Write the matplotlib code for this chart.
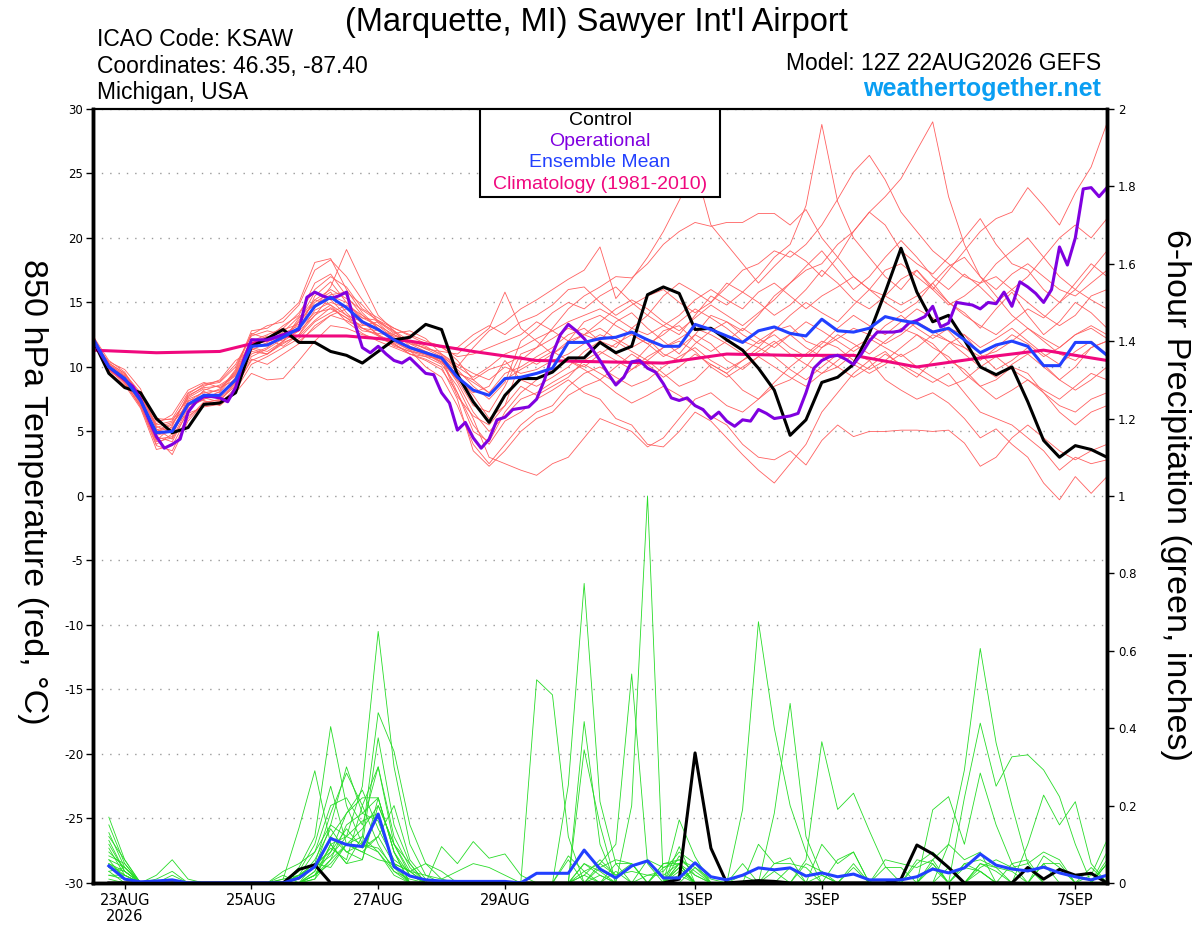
#!/usr/bin/env python
# coding=utf-8
"""
GEFS meteogram: 850 hPa temperature and 6-hour precipitation (KSAW)
"""

import numpy as np
import pandas as pd
import matplotlib
matplotlib.use("Agg")
import matplotlib.pyplot as plt
from matplotlib.patches import Rectangle

# --- datos -------------------------------------------------------------
run_start = "2026-08-22 12:00"

tick_dates = ["2026-08-23", "2026-08-25", "2026-08-27", "2026-08-29",
              "2026-09-01", "2026-09-03", "2026-09-05", "2026-09-07"]
tick_labels = ["23AUG\n2026", "25AUG", "27AUG", "29AUG",
               "1SEP", "3SEP", "5SEP", "7SEP"]

# control (6 h), 22AUG 12Z .. 7SEP 12Z
control_temp = [12.1, 9.5, 8.4, 8.0, 6.0, 4.9, 5.3, 7.1, 7.2, 8.0,
                11.6, 12.2, 12.9, 11.9, 11.9, 11.2, 10.9, 10.3, 11.2, 12.1,
                12.3, 13.3, 12.9, 9.4, 7.3, 5.7, 7.8, 9.1, 9.1, 9.6,
                10.7, 10.7, 11.9, 11.1, 11.6, 15.6, 16.2, 15.7, 12.9, 13.0,
                12.1, 11.3, 9.9, 8.2, 4.7, 5.9, 8.8, 9.2, 10.2, 12.6,
                15.8, 19.2, 15.8, 13.5, 14.0, 12.1, 10.0, 9.4, 10.0, 7.3,
                4.3, 3.0, 3.9, 3.6, 3.0]

# operacional (3 h)
oper_temp = [12.1, 11.0, 10.0, 9.5, 9.0, 8.5, 7.5, 6.0, 4.6, 3.7,
             4.0, 4.4, 6.5, 7.3, 7.7, 7.7, 7.6, 7.3, 8.4, 10.5,
             12.1, 12.1, 12.1, 12.3, 12.5, 12.7, 12.9, 15.4, 15.8, 15.5,
             15.3, 15.5, 15.8, 13.5, 11.5, 11.1, 11.6, 11.0, 10.5, 10.3,
             10.7, 10.1, 9.5, 9.4, 8.0, 7.2, 5.1, 5.7, 4.5, 3.7,
             4.4, 5.9, 6.1, 6.7, 6.8, 6.9, 7.5, 9.0, 11.0, 12.5,
             13.3, 12.8, 12.2, 11.4, 10.5, 9.5, 8.6, 9.2, 10.4, 10.5,
             9.9, 9.6, 8.7, 7.6, 7.4, 7.6, 7.0, 6.7, 6.0, 6.5,
             5.8, 5.4, 5.9, 5.8, 6.7, 6.4, 6.0, 6.1, 6.2, 6.4,
             8.0, 9.9, 10.5, 10.8, 10.9, 10.6, 10.2, 11.0, 12.0, 12.7,
             12.7, 12.7, 12.8, 13.4, 13.6, 13.9, 14.7, 13.1, 13.4, 15.0,
             14.9, 14.8, 14.5, 15.0, 14.9, 15.8, 14.7, 16.6, 16.2, 15.7,
             15.0, 16.0, 19.3, 17.9, 20.0, 23.8, 23.9, 23.2, 23.9]

mean_temp = [12.2, 10.0, 9.1, 7.4, 4.9, 5.0, 7.1, 7.8, 7.8, 9.0,
             11.6, 11.7, 12.3, 13.0, 14.7, 15.4, 14.6, 13.5, 12.9, 12.1,
             11.5, 11.1, 10.7, 9.2, 8.2, 7.8, 9.1, 9.2, 9.5, 9.9,
             11.9, 11.9, 12.2, 12.3, 12.7, 12.1, 11.6, 11.6, 13.3, 12.9,
             12.4, 11.9, 12.8, 13.1, 12.6, 12.4, 13.7, 12.8, 12.7, 13.0,
             13.9, 13.6, 13.4, 12.7, 13.0, 12.1, 11.1, 11.7, 12.0, 11.6,
             10.1, 10.1, 11.9, 11.9, 10.9]

# climatologia diaria
clim_temp = [11.3, 11.1, 11.2, 12.4, 12.4, 12.0, 11.2, 10.5, 10.4,
             10.3, 11.0, 10.9, 10.9, 10.0, 10.7, 11.3, 10.5]

# miembros del ensamble, temperatura (6 h)
member_temp = [
    [12.0, 10.2, 9.3, 7.8, 5.5, 5.8, 7.6, 8.3, 8.0, 9.5,
     12.0, 12.5, 13.0, 14.2, 16.0, 17.0, 16.2, 14.5, 13.8, 13.0, 12.5, 12.0, 11.6,
     10.5, 9.0, 8.0, 9.5,
     10.0, 10.8, 11.5, 12.5, 13.0, 12.0, 11.5, 13.0, 14.0, 13.2, 12.5, 14.0, 15.5,
     14.8, 15.8, 17.0, 18.5, 19.5, 22.5, 28.8, 22.8, 20.0, 18.5, 17.0, 16.0, 17.5,
     16.2, 15.0, 14.2, 13.0, 14.5, 15.8, 14.0, 12.5, 13.5, 15.0, 14.2, 13.0],
    [12.4, 9.8, 8.8, 7.0, 4.2, 4.5, 6.8, 7.5, 7.9, 8.8,
     11.2, 11.0, 11.8, 12.5, 14.0, 15.5, 15.0, 13.6, 12.4, 11.8, 11.0, 10.5, 9.8,
     8.0, 5.5, 4.0, 5.8,
     6.5, 7.5, 8.2, 9.0, 8.0, 7.5, 6.0, 5.5, 4.0, 3.8, 5.0, 6.5, 5.8,
     4.5, 3.2, 2.0, 1.0, 2.5, 4.0, 6.5, 8.0, 9.5, 10.5, 11.2, 10.0, 9.2,
     10.5, 11.8, 12.5, 11.0, 9.8, 10.5, 11.5, 10.2, 9.0, 10.0, 11.5, 12.0],
    [12.1, 10.3, 9.5, 8.0, 5.8, 6.0, 8.0, 8.6, 8.8, 10.0,
     12.5, 13.2, 13.5, 14.8, 17.5, 18.3, 17.0, 15.2, 13.5, 12.6, 12.8, 12.2, 11.0,
     10.0, 11.5, 12.8, 13.5,
     14.5, 15.2, 16.0, 16.8, 17.5, 19.3, 15.3, 16.8, 18.5, 20.5, 22.9, 25.5, 21.0,
     19.5, 18.0, 16.5, 17.8, 19.0, 18.2, 17.0, 18.5, 20.5, 22.0, 21.0, 19.0, 18.0,
     17.2, 18.5, 20.0, 21.5, 19.5, 18.0, 17.5, 16.0, 15.0, 16.5, 18.0, 17.0],
    [12.3, 9.6, 8.6, 6.8, 3.6, 3.9, 6.2, 7.0, 7.2, 8.2,
     10.2, 10.8, 11.5, 12.2, 13.5, 14.2, 14.8, 14.0, 13.0, 12.0, 11.3, 10.0, 9.2,
     7.0, 4.0, 2.5, 4.0,
     5.5, 6.5, 7.0, 8.5, 9.5, 10.0, 9.2, 8.5, 9.0, 10.0, 10.8, 11.5, 10.5,
     9.8, 10.5, 11.2, 12.0, 11.0, 10.2, 9.5, 10.0, 11.0, 10.5, 9.0, 8.2, 7.5,
     8.0, 7.2, 6.0, 4.5, 5.2, 4.0, 3.0, 1.0, -0.3, 1.5, 0.2, 1.5],
    [12.2, 10.1, 9.0, 7.2, 4.8, 5.2, 7.3, 8.1, 7.6, 8.7,
     11.5, 11.2, 12.0, 13.5, 15.0, 15.8, 14.2, 13.0, 12.8, 12.5, 11.8, 11.5, 11.0,
     10.2, 9.5, 9.0, 10.0,
     9.5, 9.8, 10.5, 11.0, 11.8, 12.5, 12.0, 11.2, 10.5, 11.5, 12.2, 13.0, 12.5,
     11.8, 11.0, 12.0, 12.8, 13.2, 12.0, 11.5, 12.2, 13.0, 12.5, 11.8, 12.5, 13.5,
     12.8, 12.0, 11.5, 10.8, 11.2, 12.0, 13.0, 12.2, 11.5, 12.5, 13.2, 12.5],
    [12.0, 10.4, 9.8, 8.3, 5.2, 4.4, 6.5, 7.8, 8.3, 9.6,
     12.2, 12.0, 12.6, 13.2, 14.6, 16.2, 19.1, 16.5, 14.0, 12.8, 11.6, 11.2, 10.5,
     9.0, 7.0, 6.5, 8.5,
     11.0, 11.5, 12.2, 13.0, 12.5, 12.0, 13.5, 14.2, 13.0, 12.0, 11.0, 12.5, 14.0,
     13.5, 12.8, 14.0, 15.5, 16.5, 17.5, 18.0, 19.5, 20.5, 22.0, 23.2, 24.6, 26.8,
     29.0, 23.2, 19.5, 17.0, 15.5, 14.0, 13.0, 12.0, 11.0, 10.5, 11.5, 12.0],
    [12.5, 9.9, 8.9, 7.4, 5.0, 5.5, 7.8, 8.4, 8.5, 9.3,
     11.8, 12.4, 12.0, 12.8, 15.5, 16.6, 15.0, 13.8, 13.2, 12.2, 11.9, 11.4, 11.2,
     11.0, 12.0, 13.0, 15.8,
     13.0, 12.0, 11.0, 12.0, 13.5, 14.0, 13.2, 12.5, 11.8, 12.5, 13.5, 14.5, 13.8,
     13.0, 12.0, 11.5, 12.8, 14.0, 15.0, 14.2, 13.5, 14.8, 16.0, 17.5, 18.0, 17.0,
     16.0, 17.5, 19.0, 20.5, 21.5, 22.0, 23.9, 22.5, 21.0, 23.5, 25.5, 28.9],
    [12.2, 10.0, 9.2, 7.5, 4.5, 3.2, 5.8, 7.2, 7.5, 8.5,
     10.5, 11.0, 12.0, 13.8, 15.2, 14.8, 13.5, 12.6, 12.0, 11.5, 11.0, 10.8, 10.2,
     8.5, 6.0, 3.0, 2.5,
     2.0, 1.6, 2.5, 3.0, 4.5, 6.0, 5.5, 5.0, 3.8, 4.5, 6.0, 7.5, 8.0,
     7.0, 6.5, 7.5, 8.5, 9.0, 10.0, 11.5, 12.5, 11.8, 11.0, 12.0, 13.0, 12.5,
     11.5, 10.8, 9.5, 8.5, 9.0, 10.0, 9.5, 8.0, 7.0, 6.5, 7.5, 8.0],
    [12.1, 9.7, 9.0, 7.1, 4.0, 4.8, 7.0, 7.6, 7.3, 8.9,
     11.0, 11.5, 12.4, 13.0, 14.2, 14.5, 13.8, 13.2, 13.5, 12.8, 12.0, 11.6, 10.9,
     9.8, 8.5, 7.5, 8.8,
     12.0, 13.0, 14.2, 15.0, 14.5, 15.5, 16.2, 15.0, 14.0, 15.5, 16.5, 15.8, 15.0,
     16.2, 17.5, 18.0, 19.0, 18.5, 19.5, 21.0, 23.0, 25.1, 26.4, 24.5, 22.0, 20.5,
     19.0, 18.0, 17.0, 16.5, 18.0, 19.0, 20.0, 18.5, 17.0, 16.0, 17.5, 19.0],
    [12.3, 10.2, 9.4, 7.9, 6.0, 5.9, 7.5, 8.0, 8.2, 9.8,
     12.8, 13.0, 13.8, 15.0, 18.1, 18.4, 16.0, 14.2, 13.0, 12.0, 11.5, 11.0, 10.4,
     9.2, 7.8, 6.0, 7.0,
     10.5, 11.5, 13.0, 14.5, 15.5, 16.2, 17.0, 16.9, 18.0, 19.5, 20.5, 21.2, 20.9,
     21.2, 21.2, 21.9, 21.9, 21.0, 22.2, 20.0, 18.5, 17.0, 16.0, 15.5, 14.8, 15.5,
     16.5, 15.0, 14.0, 13.2, 12.5, 13.5, 14.5, 13.8, 15.0, 16.0, 15.2, 14.5],
    [12.4, 10.5, 9.6, 7.6, 4.6, 4.2, 6.6, 7.9, 7.7, 9.1,
     11.6, 11.8, 12.2, 13.6, 15.8, 15.2, 14.0, 13.5, 12.5, 11.6, 11.2, 10.8, 10.6,
     8.8, 6.5, 5.0, 6.2,
     7.5, 8.0, 8.8, 9.5, 10.2, 9.5, 8.8, 9.8, 10.5, 9.5, 8.5, 9.0, 10.2,
     9.5, 8.2, 7.5, 8.8, 10.0, 11.0, 12.0, 11.5, 10.5, 9.8, 10.5, 11.5, 12.5,
     11.8, 10.5, 9.8, 8.5, 7.5, 8.2, 9.0, 8.0, 6.5, 5.5, 6.5, 7.0],
    [12.0, 9.8, 8.7, 7.0, 4.3, 5.4, 7.9, 8.7, 8.9, 10.2,
     12.4, 12.8, 12.5, 12.0, 13.0, 14.0, 14.5, 13.8, 13.6, 13.0, 12.4, 11.8, 11.5,
     11.5, 12.5, 13.2, 12.5,
     13.5, 14.0, 14.8, 16.0, 16.2, 15.0, 14.0, 14.8, 15.5, 16.0, 15.0, 14.2, 15.0,
     16.5, 15.8, 15.0, 14.0, 14.8, 16.0, 17.5, 16.5, 15.2, 14.5, 15.5, 16.8, 17.5,
     16.0, 14.8, 15.5, 16.5, 17.0, 16.0, 15.0, 14.0, 13.2, 14.0, 15.5, 16.0],
    [12.2, 10.1, 9.1, 7.3, 5.1, 5.6, 7.2, 7.4, 7.0, 8.0,
     9.5, 9.0, 9.1, 10.5, 12.0, 13.2, 13.0, 12.5, 12.2, 11.8, 11.0, 10.6, 10.0,
     7.5, 3.5, 2.3, 3.5,
     5.0, 6.0, 6.5, 7.8, 8.5, 9.0, 8.0, 7.2, 7.8, 8.5, 7.8, 7.0, 6.2,
     5.5, 4.0, 3.0, 2.8, 3.5, 2.4, 4.3, 5.5, 4.6, 5.0, 5.0, 5.1, 5.1,
     5.0, 5.1, 4.1, 2.3, 3.0, 4.5, 5.5, 4.5, 3.5, 2.8, 3.5, 4.0],
    [12.3, 10.0, 9.3, 7.7, 5.4, 4.9, 6.9, 8.2, 8.6, 9.4,
     11.9, 12.2, 13.2, 14.0, 16.5, 17.2, 15.5, 14.0, 13.2, 12.5, 12.0, 11.4, 10.8,
     10.0, 9.2, 10.0, 11.0,
     11.5, 12.2, 12.8, 13.5, 14.0, 14.5, 13.8, 13.0, 12.5, 13.2, 14.0, 15.2, 16.0,
     15.2, 14.5, 15.8, 16.5, 15.5, 14.5, 15.5, 16.2, 17.0, 16.0, 15.0, 14.2, 15.0,
     16.5, 17.8, 18.5, 17.0, 16.0, 17.2, 18.0, 17.0, 16.0, 15.5, 16.5, 17.5],
    [12.1, 9.9, 8.8, 6.9, 3.9, 3.5, 6.0, 7.3, 7.4, 8.6,
     10.8, 11.4, 12.2, 12.8, 14.0, 14.8, 14.0, 13.0, 12.4, 11.7, 11.2, 11.0, 10.4,
     9.0, 8.0, 8.5, 10.5,
     9.0, 8.5, 9.2, 10.0, 11.2, 12.0, 11.0, 10.2, 11.5, 12.8, 13.2, 12.0, 11.2,
     12.0, 13.0, 12.2, 11.5, 12.5, 13.5, 12.8, 12.0, 11.2, 12.0, 13.2, 14.0, 13.0,
     12.2, 13.0, 12.5, 11.5, 12.2, 13.0, 12.0, 11.0, 10.2, 11.2, 12.0, 11.0],
    [12.2, 10.3, 9.5, 7.8, 5.6, 6.3, 8.2, 8.8, 8.4, 9.0,
     11.4, 11.0, 11.9, 12.4, 13.6, 14.6, 13.8, 12.8, 12.6, 12.4, 12.0, 11.8, 11.5,
     10.8, 11.0, 11.5, 12.0,
     12.5, 13.5, 12.8, 12.0, 12.5, 13.5, 14.5, 15.2, 14.5, 13.5, 12.8, 13.8, 14.8,
     14.0, 13.2, 14.2, 15.2, 16.5, 17.8, 19.0, 17.5, 16.0, 17.0, 18.5, 19.8, 18.5,
     17.0, 16.0, 17.2, 16.2, 15.0, 16.0, 17.0, 18.5, 20.0, 21.0, 20.0, 21.5],
    [12.4, 9.7, 8.9, 7.2, 4.7, 5.0, 7.4, 7.7, 7.8, 9.2,
     11.7, 12.0, 12.9, 13.3, 15.2, 16.0, 15.3, 14.4, 13.6, 12.7, 11.8, 11.2, 10.7,
     8.0, 5.0, 4.2, 6.5,
     8.0, 9.0, 9.8, 10.5, 9.8, 9.0, 10.0, 11.0, 10.2, 9.2, 10.0, 11.0, 10.2,
     9.5, 10.5, 11.5, 10.8, 9.8, 9.0, 10.0, 11.0, 10.2, 9.5, 10.2, 11.0, 10.0,
     9.2, 8.5, 9.0, 10.0, 10.8, 9.8, 9.0, 8.2, 7.5, 8.5, 9.5, 9.0],
    [12.0, 10.1, 9.2, 7.6, 5.3, 5.7, 7.0, 7.5, 8.1, 9.7,
     12.6, 12.2, 11.6, 12.5, 14.4, 15.0, 14.6, 13.3, 12.9, 12.2, 11.4, 11.0, 10.3,
     9.5, 9.0, 9.8, 10.2,
     10.8, 10.2, 11.0, 11.8, 12.5, 13.0, 12.2, 11.5, 12.2, 11.0, 10.5, 11.8, 12.8,
     13.5, 12.5, 11.8, 12.5, 11.5, 10.8, 11.8, 13.0, 14.0, 13.2, 12.5, 13.5, 14.5,
     13.8, 12.8, 11.5, 10.5, 11.5, 12.5, 11.8, 10.8, 11.5, 12.5, 13.0, 12.2],
    [12.3, 9.8, 9.0, 7.3, 4.4, 4.6, 7.7, 8.5, 9.0, 10.5,
     11.3, 11.9, 12.7, 13.9, 14.8, 15.6, 15.8, 14.8, 13.4, 12.3, 11.5, 11.1, 10.8,
     9.6, 8.8, 8.0, 9.0,
     9.8, 10.5, 11.2, 10.5, 10.0, 11.0, 11.8, 12.5, 11.8, 10.8, 11.5, 12.5, 11.8,
     10.5, 9.8, 10.8, 11.8, 12.5, 11.5, 10.8, 10.0, 9.2, 10.0, 11.0, 10.2, 9.5,
     8.8, 9.5, 8.0, 6.5, 6.0, 5.5, 4.5, 3.5, 2.0, 3.0, 2.5, 2.8],
    [12.2, 10.0, 9.3, 7.5, 5.0, 5.3, 6.4, 6.9, 7.1, 8.4,
     10.6, 10.2, 11.0, 11.8, 13.2, 14.0, 13.6, 13.0, 12.5, 11.9, 11.3, 10.9, 10.6,
     7.7, 6.2, 5.5, 7.0,
     8.5, 7.8, 8.5, 9.2, 10.5, 11.2, 10.5, 9.8, 10.8, 11.5, 12.0, 11.2, 10.0,
     9.2, 10.0, 10.8, 10.0, 9.2, 8.5, 9.5, 10.5, 11.5, 12.2, 11.5, 10.8, 11.5,
     12.5, 12.0, 11.0, 10.0, 9.2, 10.2, 11.0, 10.0, 9.0, 8.2, 9.0, 10.0],
]

# precipitacion 6 h (22AUG 18Z .. 7SEP 12Z)
control_precip = [0, 0, 0, 0, 0, 0, 0, 0,
                  0, 0, 0, 0, 0.035, 0.047, 0, 0,
                  0, 0, 0, 0, 0, 0, 0, 0,
                  0, 0, 0, 0, 0, 0, 0, 0,
                  0, 0, 0, 0, 0.01, 0.336, 0.09, 0,
                  0.003, 0.006, 0.004, 0, 0, 0, 0, 0,
                  0, 0, 0.01, 0.098, 0.075, 0.04, 0, 0,
                  0, 0, 0.04, 0.01, 0.035, 0.02, 0.025, 0]

mean_precip = [0.044, 0.01, 0.003, 0.005, 0.008, 0, 0, 0,
               0, 0, 0, 0, 0.013, 0.042, 0.115, 0.099,
               0.094, 0.178, 0.042, 0.018, 0.008, 0.005, 0.004, 0.004,
               0.004, 0.004, 0, 0.025, 0.025, 0.025, 0.085, 0.036,
               0.013, 0.044, 0.057, 0.013, 0.013, 0.052, 0.016, 0.008,
               0.02, 0.039, 0.034, 0.039, 0.018, 0.026, 0.016, 0.023,
               0.008, 0.008, 0.008, 0.016, 0.036, 0.026, 0.039, 0.075,
               0.046, 0.036, 0.031, 0.041, 0.026, 0.016, 0.008, 0.02]

member_precip = [
    [0.17, 0.06, 0, 0, 0, 0, 0, 0,  0, 0, 0, 0, 0.02, 0.08, 0.15, 0.12,
     0.25, 0.65, 0.30, 0.10, 0.02, 0, 0, 0,  0, 0, 0, 0.525, 0.486, 0.12, 0, 0,
     0, 0, 0, 0, 0, 0.04, 0, 0,  0.19, 0.675, 0.40, 0.20, 0.08, 0, 0, 0,
     0, 0, 0, 0, 0, 0, 0, 0.05,  0.03, 0, 0, 0.05, 0, 0, 0, 0],
    [0.15, 0.05, 0, 0, 0, 0, 0, 0,  0, 0, 0, 0.01, 0.142, 0.29, 0.10, 0.05,
     0.12, 0.44, 0.34, 0.15, 0.05, 0.01, 0, 0,  0, 0, 0, 0, 0, 0.253, 0.774, 0.21,
     0.05, 0, 0, 0, 0.163, 0.068, 0, 0,  0, 0, 0, 0, 0, 0, 0, 0,
     0, 0, 0, 0, 0.189, 0.223, 0.10, 0.284,  0.15, 0.05, 0, 0, 0, 0, 0, 0],
    [0.13, 0.04, 0, 0.02, 0.06, 0.01, 0, 0,  0, 0, 0, 0, 0.04, 0.12, 0.404, 0.20,
     0.10, 0.375, 0.15, 0.05, 0, 0, 0, 0,  0, 0, 0, 0, 0, 0, 0.417, 0.10,
     0, 0, 0, 0, 0.05, 0, 0, 0,  0, 0, 0, 0, 0, 0, 0, 0,
     0, 0, 0, 0, 0, 0.1, 0.292, 0.606,  0.362, 0.20, 0.05, 0, 0, 0, 0, 0],
    [0.12, 0.06, 0, 0, 0, 0, 0, 0,  0, 0, 0, 0, 0.02, 0.05, 0.18, 0.284,
     0.20, 0.30, 0.10, 0.03, 0, 0, 0, 0,  0, 0, 0, 0, 0, 0, 0.344, 0.15,
     0, 0, 0, 0, 0.094, 0, 0, 0,  0, 0, 0.18, 0.464, 0.12, 0.02, 0, 0,
     0, 0, 0, 0, 0, 0, 0, 0,  0, 0, 0, 0, 0, 0, 0.02, 0.111],
    [0.10, 0.03, 0, 0.01, 0.03, 0, 0, 0,  0, 0, 0, 0, 0, 0.03, 0.12, 0.18,
     0.22, 0.22, 0.08, 0.02, 0, 0, 0, 0,  0, 0, 0, 0, 0, 0, 0, 0.05,
     0.10, 0.54, 0.05, 0, 0, 0, 0, 0,  0, 0, 0, 0, 0, 0, 0, 0,
     0, 0, 0, 0, 0, 0, 0.22, 0.413,  0.25, 0.326, 0.331, 0.292, 0.223, 0.10, 0, 0],
    [0.09, 0.02, 0, 0, 0, 0, 0, 0,  0, 0, 0, 0, 0, 0.02, 0.06, 0.15,
     0.18, 0.16, 0.05, 0, 0, 0.094, 0.05, 0.107,  0.064, 0.075, 0.02, 0, 0, 0, 0, 0,
     0, 0.2, 1.0, 0, 0, 0, 0, 0,  0, 0, 0, 0, 0.06, 0.365, 0.19, 0.232,
     0.135, 0.043, 0, 0, 0, 0, 0, 0,  0, 0, 0, 0, 0, 0, 0, 0],
    [0.08, 0.04, 0, 0, 0, 0, 0, 0,  0, 0, 0, 0, 0.03, 0.10, 0.25, 0.10,
     0.08, 0.12, 0.20, 0.06, 0.01, 0, 0, 0,  0, 0, 0, 0, 0, 0, 0.05, 0.03,
     0, 0, 0.06, 0.04, 0.06, 0.03, 0, 0,  0, 0.10, 0.05, 0.065, 0, 0, 0, 0,
     0, 0, 0, 0, 0, 0, 0, 0,  0, 0, 0.10, 0.227, 0.15, 0.21, 0.05, 0],
    [0.06, 0.01, 0, 0, 0.02, 0, 0, 0,  0, 0, 0, 0.03, 0.05, 0.08, 0.20, 0.22,
     0.15, 0.30, 0.12, 0.04, 0, 0, 0, 0,  0, 0, 0, 0, 0, 0.06, 0, 0.04,
     0.06, 0.05, 0, 0, 0.05, 0, 0, 0,  0, 0, 0, 0, 0, 0.10, 0.05, 0.08,
     0, 0, 0, 0.05, 0.08, 0.04, 0, 0,  0, 0, 0, 0, 0, 0, 0, 0],
    [0.05, 0.02, 0, 0, 0, 0, 0, 0,  0, 0, 0, 0, 0.01, 0.04, 0.15, 0.30,
     0.18, 0.22, 0.08, 0, 0, 0, 0, 0,  0, 0, 0, 0, 0, 0.07, 0.03, 0,
     0.03, 0, 0, 0.05, 0.05, 0, 0, 0,  0, 0, 0.05, 0.05, 0.04, 0, 0, 0.05,
     0, 0.06, 0.05, 0.04, 0.06, 0, 0, 0.04,  0.06, 0.04, 0.05, 0.08, 0.06, 0, 0, 0.06],
    [0.04, 0.03, 0, 0, 0, 0, 0, 0,  0, 0, 0, 0, 0, 0.02, 0.10, 0.12,
     0.16, 0.18, 0.05, 0.03, 0.02, 0.01, 0.03, 0.05,  0.04, 0.02, 0, 0, 0, 0, 0.02, 0.06,
     0.02, 0.05, 0, 0.05, 0.06, 0.04, 0.01, 0,  0.05, 0, 0, 0.04, 0, 0, 0, 0,
     0, 0, 0, 0, 0.06, 0.10, 0.06, 0.08,  0, 0, 0, 0.05, 0.05, 0, 0, 0.08],
    [0.03, 0.04, 0, 0, 0, 0, 0, 0,  0, 0, 0, 0, 0, 0.01, 0.06, 0.10,
     0.14, 0.20, 0.10, 0.05, 0, 0, 0, 0,  0, 0, 0, 0, 0, 0, 0.03, 0.05,
     0.02, 0.03, 0.02, 0.02, 0.05, 0.02, 0, 0,  0.02, 0, 0, 0, 0, 0, 0.06, 0.08,
     0, 0, 0, 0, 0, 0, 0, 0,  0, 0.05, 0.06, 0, 0, 0, 0, 0],
    [0.02, 0.01, 0, 0, 0, 0, 0, 0,  0, 0, 0, 0.02, 0, 0.05, 0.08, 0.18,
     0.24, 0.14, 0.06, 0.03, 0, 0, 0, 0,  0, 0, 0, 0, 0, 0, 0.05, 0.02,
     0, 0, 0.02, 0.03, 0.08, 0.05, 0, 0,  0, 0, 0, 0, 0, 0.02, 0, 0,
     0, 0, 0, 0.06, 0.05, 0, 0.05, 0.03,  0, 0, 0.04, 0, 0, 0, 0.04, 0],
    [0.07, 0.05, 0, 0, 0, 0, 0, 0,  0, 0, 0, 0, 0.01, 0.06, 0.14, 0.08,
     0.10, 0.09, 0.04, 0, 0, 0, 0, 0,  0, 0, 0, 0, 0, 0, 0, 0,
     0.05, 0.05, 0, 0.04, 0.05, 0, 0, 0,  0, 0, 0, 0, 0.05, 0.03, 0, 0,
     0, 0, 0, 0, 0, 0.04, 0, 0.05,  0.04, 0, 0, 0, 0, 0, 0, 0.05],
    [0.11, 0.03, 0, 0, 0, 0, 0, 0,  0, 0, 0, 0, 0.02, 0.04, 0.09, 0.06,
     0.20, 0.10, 0.03, 0, 0, 0, 0, 0,  0, 0, 0, 0, 0, 0, 0, 0,
     0, 0, 0, 0, 0.07, 0.02, 0, 0,  0, 0, 0, 0, 0, 0, 0, 0,
     0, 0, 0, 0, 0.05, 0, 0, 0.03,  0, 0, 0, 0.07, 0.04, 0, 0, 0],
    [0.05, 0.03, 0, 0, 0, 0, 0, 0,  0, 0, 0, 0, 0, 0.02, 0.05, 0.10,
     0.12, 0.08, 0.02, 0, 0, 0, 0, 0,  0, 0, 0, 0, 0, 0, 0, 0,
     0, 0, 0, 0, 0.03, 0, 0, 0,  0, 0, 0, 0, 0, 0, 0, 0,
     0, 0, 0, 0, 0, 0, 0, 0,  0, 0, 0, 0, 0, 0, 0, 0],
    [0.02, 0.02, 0, 0, 0, 0, 0, 0,  0, 0, 0, 0, 0, 0.03, 0.12, 0.08,
     0.06, 0.20, 0.10, 0.02, 0, 0, 0, 0,  0, 0, 0, 0, 0, 0, 0, 0.02,
     0, 0, 0, 0, 0.04, 0, 0, 0,  0, 0, 0.03, 0, 0, 0, 0, 0,
     0, 0, 0, 0, 0.04, 0, 0, 0,  0, 0, 0, 0, 0, 0, 0, 0.05],
    [0.03, 0, 0, 0, 0, 0, 0, 0,  0, 0, 0, 0, 0.02, 0.05, 0.04, 0.10,
     0.08, 0.06, 0.05, 0.03, 0.05, 0.03, 0, 0,  0, 0, 0, 0, 0, 0, 0, 0,
     0, 0, 0, 0, 0, 0, 0, 0,  0, 0, 0, 0, 0, 0, 0, 0.04,
     0, 0.04, 0.04, 0, 0, 0, 0, 0,  0, 0, 0, 0, 0, 0, 0, 0],
    [0.04, 0.02, 0, 0, 0, 0, 0, 0,  0, 0, 0, 0, 0, 0.01, 0.10, 0.05,
     0.06, 0.22, 0.08, 0, 0, 0, 0, 0,  0, 0, 0, 0, 0, 0, 0.02, 0,
     0, 0, 0, 0, 0.04, 0, 0, 0,  0, 0, 0, 0, 0, 0, 0, 0,
     0, 0, 0, 0, 0, 0, 0.05, 0.06,  0.04, 0.03, 0, 0, 0, 0, 0, 0],
    [0.06, 0.04, 0, 0, 0, 0, 0, 0,  0, 0, 0, 0, 0, 0.02, 0.08, 0.14,
     0.09, 0.12, 0.05, 0, 0, 0, 0, 0,  0, 0, 0, 0, 0, 0, 0, 0,
     0, 0, 0, 0, 0, 0, 0, 0,  0, 0, 0, 0, 0, 0, 0, 0,
     0, 0, 0, 0, 0, 0, 0, 0,  0, 0, 0, 0, 0, 0, 0, 0.05],
    [0.01, 0, 0, 0, 0, 0, 0, 0,  0, 0, 0, 0.01, 0.02, 0.04, 0.07, 0.12,
     0.10, 0.08, 0.03, 0.01, 0, 0, 0, 0,  0, 0, 0, 0, 0, 0, 0, 0,
     0, 0, 0, 0, 0.02, 0, 0, 0,  0, 0, 0, 0, 0, 0, 0, 0,
     0, 0, 0, 0, 0, 0, 0.04, 0.03,  0, 0, 0, 0, 0, 0, 0, 0],
]

# colores
c_member_t = "#ff6060"
c_member_p = "#28dc28"
c_control = "black"
c_oper = "#8000e0"
c_mean = "#2240ff"
c_clim = "#f0087e"
c_site = "#0a9ef2"


def fy(py):
    """pixel (desde arriba) -> coordenada de figura"""
    return 1 - py / 927.0


def main():
    plt.rcParams['font.family'] = ['Liberation Sans', 'DejaVu Sans']

    t6 = pd.date_range(run_start, periods=len(control_temp), freq="6h")
    t3 = pd.date_range(run_start, periods=len(oper_temp), freq="3h")
    tp = t6[1:]
    tc = pd.date_range(run_start, periods=len(clim_temp), freq="24h")

    fig = plt.figure(figsize=(12, 9.27), dpi=100)
    ax = fig.add_axes([0.0775, 0.0475, 0.845, 0.835])
    ax2 = ax.twinx()

    # temperatura
    for m in member_temp:
        ax.plot(t6[:len(m)], m, color=c_member_t, lw=0.6)
    ax.plot(tc, clim_temp, color=c_clim, lw=2.2)
    ax.plot(t6, control_temp, color=c_control, lw=2.2)
    ax.plot(t3, oper_temp, color=c_oper, lw=2.2)
    ax.plot(t6, mean_temp, color=c_mean, lw=2.2)

    # precipitacion
    for m in member_precip:
        ax2.plot(tp[:len(m)], m, color=c_member_p, lw=0.6)
    ax2.plot(tp, control_precip, color=c_control, lw=2.2)
    ax2.plot(tp, mean_precip, color=c_mean, lw=2.2)

    ax.set_xlim(t6[0], t6[-1])
    ax.set_ylim(-30, 30)
    ax2.set_ylim(0, 2)

    ax.set_yticks(np.arange(-30, 31, 5))
    ax.set_yticklabels([str(v) for v in range(-30, 31, 5)],
                       family='DejaVu Sans', fontsize=8.5)
    ax2.set_yticks(np.arange(0, 2.01, 0.2))
    ax2.set_yticklabels(["%g" % round(v, 1) for v in np.arange(0, 2.01, 0.2)],
                        family='DejaVu Sans', fontsize=8.5)
    ax.set_xticks(pd.to_datetime(tick_dates))
    ax.set_xticklabels(tick_labels, family='DejaVu Sans', fontsize=10.5,
                       linespacing=1.15)

    ax.tick_params(axis='y', direction='out', length=5, width=1, pad=2)
    ax2.tick_params(axis='y', direction='out', length=5, width=1, pad=3)
    ax.tick_params(axis='x', direction='out', length=4, width=1, pad=3)

    ax.yaxis.grid(True, linestyle=(0, (1, 5)), color='#999999', lw=1)
    ax.set_axisbelow(True)

    for a in (ax, ax2):
        a.spines['left'].set_linewidth(2.5)
        a.spines['bottom'].set_linewidth(2.5)
        a.spines['right'].set_linewidth(2.5)
        a.spines['top'].set_linewidth(1.5)

    # leyenda
    ax2.add_patch(Rectangle((0.3817, 0.8863), 0.2366, 0.1137,
                            transform=ax2.transAxes, facecolor='white',
                            edgecolor='black', lw=1.5, zorder=10))
    ley = [("Control", c_control, 0.9845), ("Operational", c_oper, 0.9574),
           ("Ensemble Mean", c_mean, 0.9302),
           ("Climatology (1981-2010)", c_clim, 0.9018)]
    for txt, col, yy in ley:
        ax2.text(0.5, yy, txt, color=col, transform=ax2.transAxes,
                 ha='center', va='center', fontsize=14, zorder=11)

    # textos
    fig.text(596 / 1200.0, fy(22), "(Marquette, MI) Sawyer Int'l Airport",
             ha='center', va='center', fontsize=23.5)
    fig.text(97 / 1200.0, fy(40), "ICAO Code: KSAW", ha='left', va='center',
             fontsize=16.5)
    fig.text(97 / 1200.0, fy(66), "Coordinates: 46.35, -87.40", ha='left',
             va='center', fontsize=16.5)
    fig.text(97 / 1200.0, fy(92), "Michigan, USA", ha='left', va='center',
             fontsize=16.5)
    fig.text(1101 / 1200.0, fy(64), "Model: 12Z 22AUG2026 GEFS", ha='right',
             va='center', fontsize=16.5)
    fig.text(1101 / 1200.0, fy(89), "weathertogether.net", ha='right',
             va='center', fontsize=18, fontweight='bold', color=c_site)
    fig.text(32 / 1200.0, fy(492), "850 hPa Temperature (red, \u00b0C)",
             rotation=-90, ha='center', va='center', fontsize=24.5)
    fig.text(1175 / 1200.0, fy(495), "6-hour Precipitation (green, inches)",
             rotation=-90, ha='center', va='center', fontsize=24.5)

    fig.savefig("out.png", dpi=100)


if __name__ == '__main__':
    main()
